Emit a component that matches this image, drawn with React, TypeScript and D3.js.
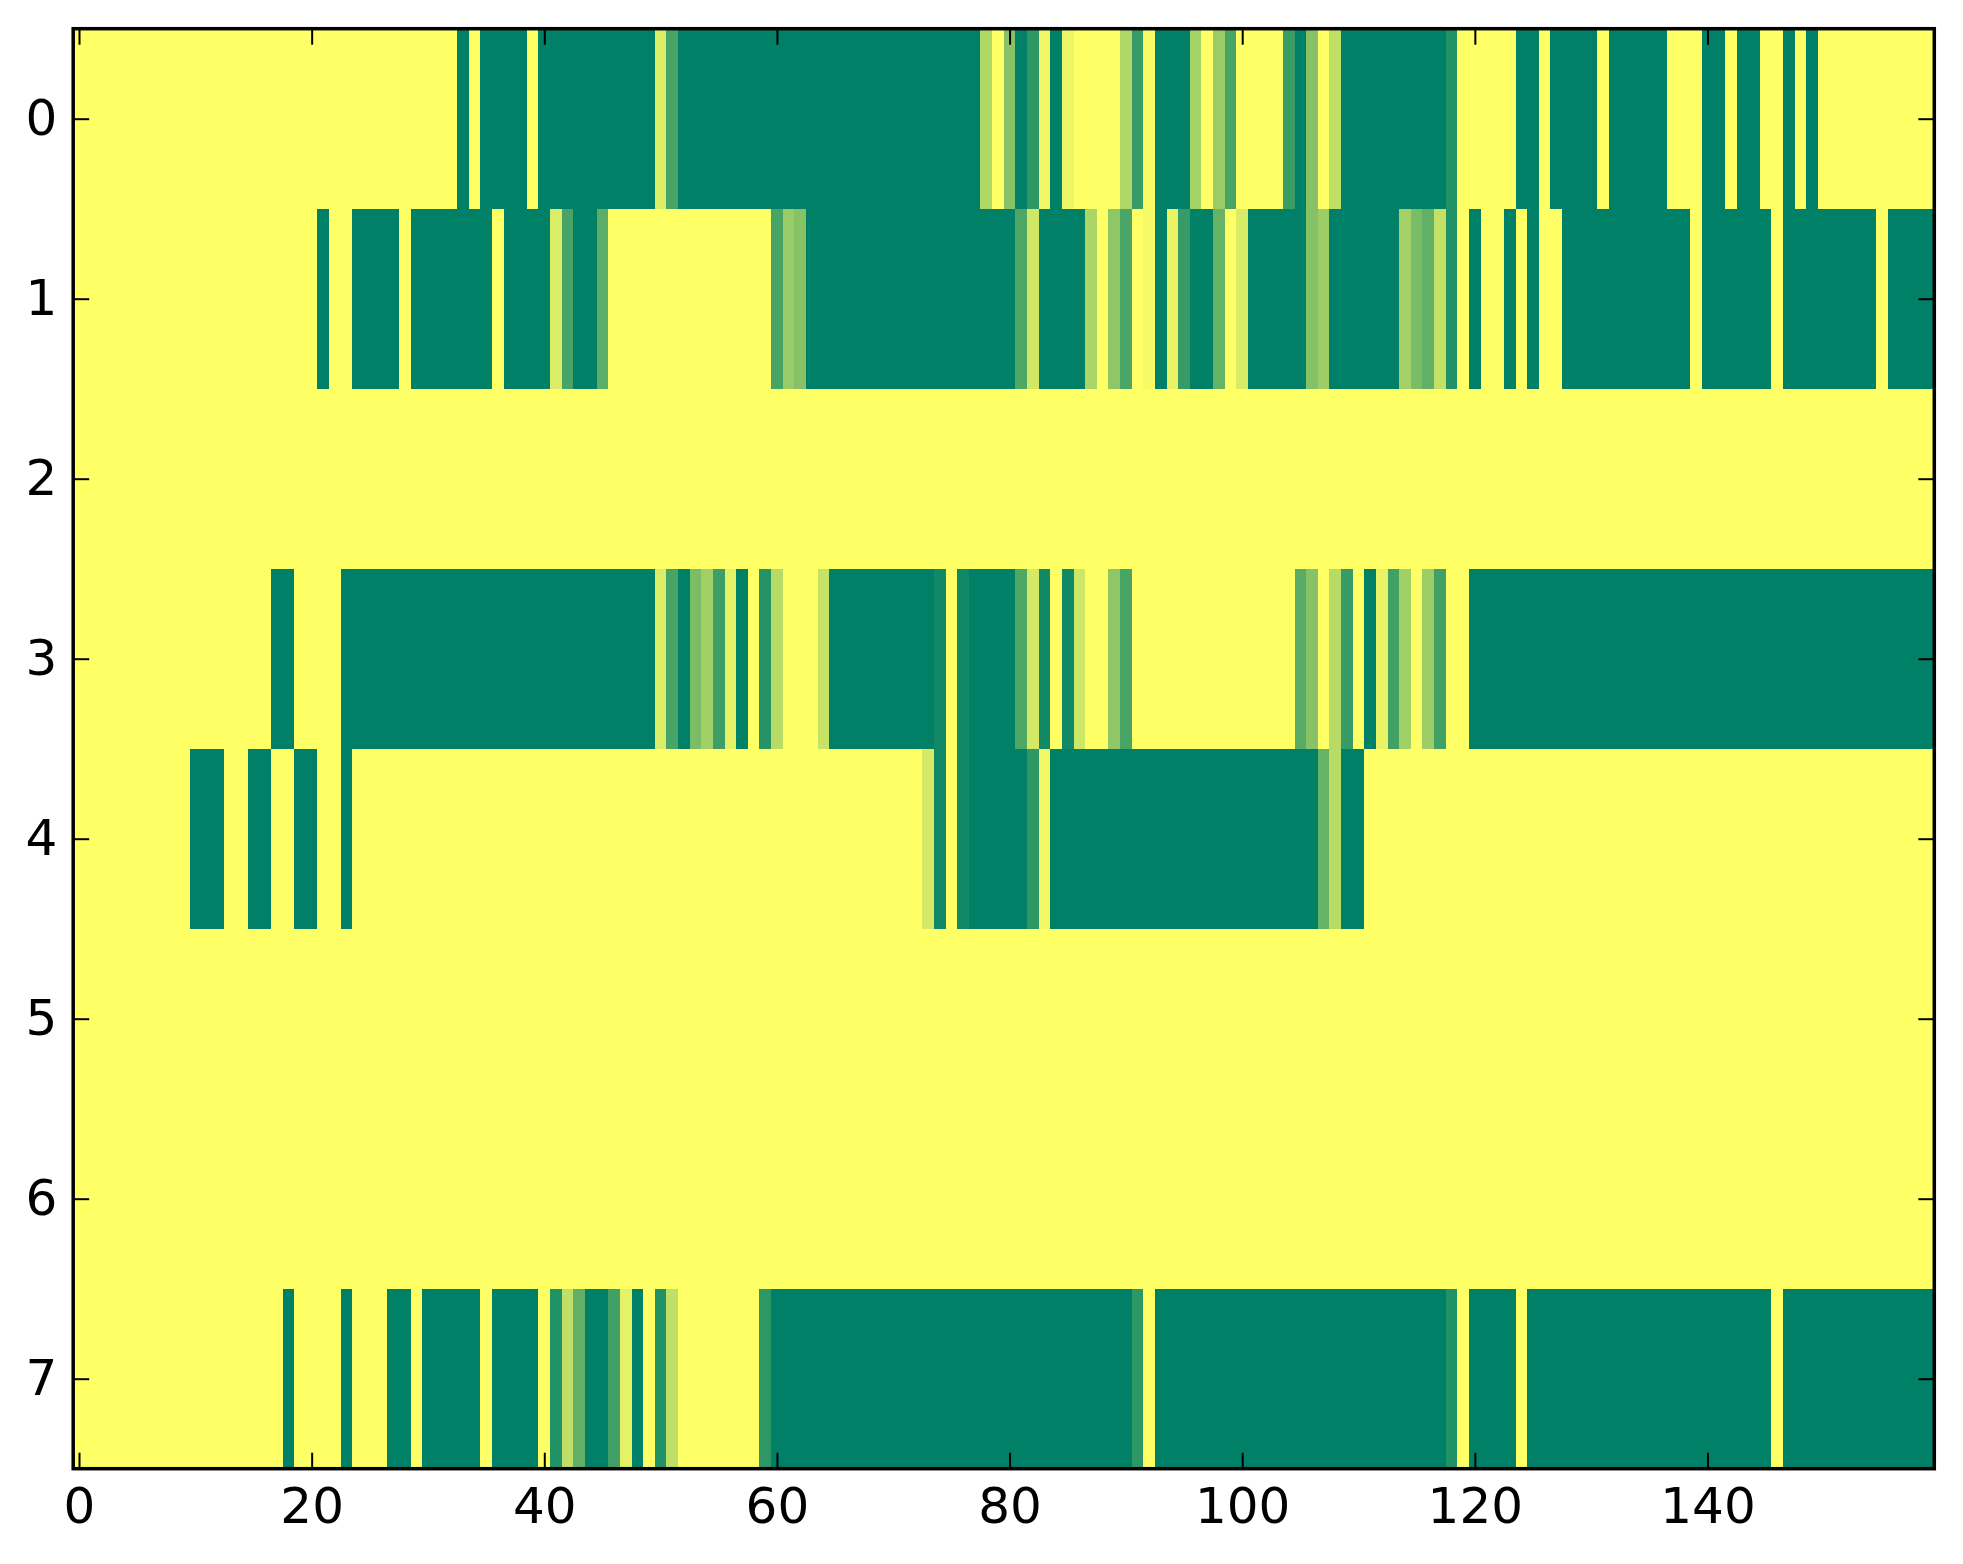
import { useEffect, useRef } from "react";
import * as d3 from "d3";

// one array per row, 160 columns each, values 0..1 (summer_r colormap)
const ROW_0 = [
  0, 0, 0, 0, 0, 0, 0, 0, 0, 0, 0, 0, 0, 0, 0, 0, 0, 0, 0, 0,
  0, 0, 0, 0, 0, 0, 0, 0, 0, 0, 0, 0, 0, 1, 0, 1, 1, 1, 1, 0,
  1, 1, 1, 1, 1, 1, 1, 1, 1, 1, 0.14, 0.72, 1, 1, 1, 1, 1, 1, 1, 1,
  1, 1, 1, 1, 1, 1, 1, 1, 1, 1, 1, 1, 1, 1, 1, 1, 1, 1, 0.31, 0,
  0.47, 1, 0.82, 0.06, 1, 0.07, 0, 0, 0, 0, 0.31, 0.79, 0.03, 1, 1, 1, 0.35, 0, 0.4, 0.72,
  0, 0, 0, 0, 0.77, 1, 0.47, 0, 0.25, 1, 1, 1, 1, 1, 1, 1, 1, 1, 0.87, 0,
  0, 0, 0, 0, 1, 1, 0, 1, 1, 1, 1, 0, 1, 1, 1, 1, 1, 0, 0, 0,
  1, 1, 0, 1, 1, 0, 0, 1, 0, 1, 0, 0, 0, 0, 0, 0, 0, 0, 0, 0,
];
const ROW_1 = [
  0, 0, 0, 0, 0, 0, 0, 0, 0, 0, 0, 0, 0, 0, 0, 0, 0, 0, 0, 0,
  0, 1, 0, 0, 1, 1, 1, 1, 0, 1, 1, 1, 1, 1, 1, 1, 0, 1, 1, 1,
  1, 0.14, 0.72, 1, 1, 0.64, 0, 0, 0, 0, 0, 0, 0, 0, 0, 0, 0, 0, 0, 0,
  0.72, 0.4, 0.47, 1, 1, 1, 1, 1, 1, 1, 1, 1, 1, 1, 1, 1, 1, 1, 1, 1,
  1, 0.69, 0.18, 1, 1, 1, 1, 0.33, 0, 0.44, 0.71, 0, 0.04, 1, 0.09, 0.79, 1, 1, 0.6, 0,
  0.15, 1, 1, 1, 1, 1, 0.48, 0.39, 1, 1, 1, 1, 1, 1, 0.36, 0.52, 0.62, 0.24, 0.87, 0,
  1, 0, 0, 1, 0, 1, 0, 0, 1, 1, 1, 1, 1, 1, 1, 1, 1, 1, 1, 0,
  1, 1, 1, 1, 1, 1, 0, 1, 1, 1, 1, 1, 1, 1, 1, 0, 1, 1, 1, 1,
];
const ROW_2 = [
  0, 0, 0, 0, 0, 0, 0, 0, 0, 0, 0, 0, 0, 0, 0, 0, 0, 0, 0, 0,
  0, 0, 0, 0, 0, 0, 0, 0, 0, 0, 0, 0, 0, 0, 0, 0, 0, 0, 0, 0,
  0, 0, 0, 0, 0, 0, 0, 0, 0, 0, 0, 0, 0, 0, 0, 0, 0, 0, 0, 0,
  0, 0, 0, 0, 0, 0, 0, 0, 0, 0, 0, 0, 0, 0, 0, 0, 0, 0, 0, 0,
  0, 0, 0, 0, 0, 0, 0, 0, 0, 0, 0, 0, 0, 0, 0, 0, 0, 0, 0, 0,
  0, 0, 0, 0, 0, 0, 0, 0, 0, 0, 0, 0, 0, 0, 0, 0, 0, 0, 0, 0,
  0, 0, 0, 0, 0, 0, 0, 0, 0, 0, 0, 0, 0, 0, 0, 0, 0, 0, 0, 0,
  0, 0, 0, 0, 0, 0, 0, 0, 0, 0, 0, 0, 0, 0, 0, 0, 0, 0, 0, 0,
];
const ROW_3 = [
  0, 0, 0, 0, 0, 0, 0, 0, 0, 0, 0, 0, 0, 0, 0, 0, 0, 1, 1, 0,
  0, 0, 0, 1, 1, 1, 1, 1, 1, 1, 1, 1, 1, 1, 1, 1, 1, 1, 1, 1,
  1, 1, 1, 1, 1, 1, 1, 1, 1, 1, 0.14, 0.72, 1, 0.52, 0.37, 0.76, 0.1, 1, 0, 0.85,
  0.28, 0, 0, 0, 0.22, 1, 1, 1, 1, 1, 1, 1, 1, 1, 0.93, 0, 0.93, 1, 1, 1,
  1, 0.69, 0.17, 0.93, 0, 0.93, 0.2, 0, 0, 0.44, 0.72, 0, 0, 0, 0, 0, 0, 0, 0, 0,
  0, 0, 0, 0, 0, 0.65, 0.47, 0, 0.28, 0.79, 0, 1, 0.09, 0.75, 0.37, 0, 0.39, 0.75, 0, 0,
  1, 1, 1, 1, 1, 1, 1, 1, 1, 1, 1, 1, 1, 1, 1, 1, 1, 1, 1, 1,
  1, 1, 1, 1, 1, 1, 1, 1, 1, 1, 1, 1, 1, 1, 1, 1, 1, 1, 1, 1,
];
const ROW_4 = [
  0, 0, 0, 0, 0, 0, 0, 0, 0, 0, 1, 1, 1, 0, 0, 1, 1, 0, 0, 1,
  1, 0, 0, 1, 0, 0, 0, 0, 0, 0, 0, 0, 0, 0, 0, 0, 0, 0, 0, 0,
  0, 0, 0, 0, 0, 0, 0, 0, 0, 0, 0, 0, 0, 0, 0, 0, 0, 0, 0, 0,
  0, 0, 0, 0, 0, 0, 0, 0, 0, 0, 0, 0, 0, 0.17, 0.93, 0, 0.93, 1, 1, 1,
  1, 1, 0.82, 0.05, 1, 1, 1, 1, 1, 1, 1, 1, 1, 1, 1, 1, 1, 1, 1, 1,
  1, 1, 1, 1, 1, 1, 1, 0.6, 0.28, 1, 1, 0, 0, 0, 0, 0, 0, 0, 0, 0,
  0, 0, 0, 0, 0, 0, 0, 0, 0, 0, 0, 0, 0, 0, 0, 0, 0, 0, 0, 0,
  0, 0, 0, 0, 0, 0, 0, 0, 0, 0, 0, 0, 0, 0, 0, 0, 0, 0, 0, 0,
];
const ROW_5 = [...ROW_2];
const ROW_6 = [...ROW_2];
const ROW_7 = [
  0, 0, 0, 0, 0, 0, 0, 0, 0, 0, 0, 0, 0, 0, 0, 0, 0, 0, 1, 0,
  0, 0, 0, 1, 0, 0, 0, 1, 1, 0, 1, 1, 1, 1, 1, 0, 1, 1, 1, 1,
  0, 0.87, 0.25, 0.62, 1, 1, 0.75, 0.1, 1, 0, 0.87, 0.25, 0, 0, 0, 0, 0, 0, 0, 0.82,
  1, 1, 1, 1, 1, 1, 1, 1, 1, 1, 1, 1, 1, 1, 1, 1, 1, 1, 1, 1,
  1, 1, 1, 1, 1, 1, 1, 1, 1, 1, 1, 0.82, 0, 1, 1, 1, 1, 1, 1, 1,
  1, 1, 1, 1, 1, 1, 1, 1, 1, 1, 1, 1, 1, 1, 1, 1, 1, 1, 0.87, 0,
  1, 1, 1, 1, 0, 1, 1, 1, 1, 1, 1, 1, 1, 1, 1, 1, 1, 1, 1, 1,
  1, 1, 1, 1, 1, 1, 0, 1, 1, 1, 1, 1, 1, 1, 1, 1, 1, 1, 1, 1,
];

const ROWS = [ROW_0, ROW_1, ROW_2, ROW_3, ROW_4, ROW_5, ROW_6, ROW_7];
const X_TICKS = [0, 20, 40, 60, 80, 100, 120, 140];
const Y_TICKS = [0, 1, 2, 3, 4, 5, 6, 7];

const W = 1963;
const H = 1564;

export default function App() {
  const ref = useRef<SVGSVGElement | null>(null);

  useEffect(() => {
    if (!ref.current) return;
    const svg = d3.select(ref.current);
    svg.selectAll("*").remove();

    const left = 73.2, right = 1934.3, top = 28.7, bottom = 1468.7;
    const ncol = ROWS[0].length;
    const x = d3.scaleLinear().domain([-0.5, ncol - 0.5]).range([left, right]);
    const y = d3.scaleLinear().domain([-0.5, ROWS.length - 0.5]).range([top, bottom]);
    // summer_r: 0 -> yellow, 1 -> green
    const color = d3.scaleLinear<string>().domain([0, 1]).range(["#ffff66", "#008066"])
      .interpolate(d3.interpolateRgb);

    svg.append("rect").attr("width", W).attr("height", H).attr("fill", "#fff");

    const cells = ROWS.flatMap((row, r) => row.map((v, c) => ({ r, c, v })));
    svg.append("g")
      .attr("shape-rendering", "crispEdges")
      .selectAll("rect")
      .data(cells)
      .join("rect")
      .attr("x", d => x(d.c - 0.5))
      .attr("y", d => y(d.r - 0.5))
      .attr("width", d => x(d.c + 0.5) - x(d.c - 0.5) + 0.6)
      .attr("height", d => y(d.r + 0.5) - y(d.r - 0.5) + 0.6)
      .attr("fill", d => color(d.v));

    const font = "DejaVu Sans";
    const fs = 50;
    const tick = 16;

    const styleAxis = (g: d3.Selection<SVGGElement, unknown, null, undefined>, showText: boolean) => {
      g.select(".domain").remove();
      g.selectAll(".tick line").attr("stroke", "#000").attr("stroke-width", 2);
      g.selectAll(".tick text")
        .attr("fill", "#000")
        .style("font-family", font)
        .style("font-size", `${fs}px`)
        .style("display", showText ? null : "none");
    };

    svg.append("g")
      .attr("transform", `translate(0,${bottom})`)
      .call(d3.axisBottom(x).tickValues(X_TICKS).tickSizeInner(-tick).tickSizeOuter(0).tickPadding(19))
      .call(g => styleAxis(g, true));
    svg.append("g")
      .attr("transform", `translate(0,${top})`)
      .call(d3.axisTop(x).tickValues(X_TICKS).tickSizeInner(-tick).tickSizeOuter(0))
      .call(g => styleAxis(g, false));
    svg.append("g")
      .attr("transform", `translate(${left},0)`)
      .call(d3.axisLeft(y).tickValues(Y_TICKS).tickSizeInner(-tick).tickSizeOuter(0).tickPadding(16))
      .call(g => styleAxis(g, true));
    svg.append("g")
      .attr("transform", `translate(${right},0)`)
      .call(d3.axisRight(y).tickValues(Y_TICKS).tickSizeInner(-tick).tickSizeOuter(0))
      .call(g => styleAxis(g, false));

    svg.append("rect")
      .attr("x", left).attr("y", top)
      .attr("width", right - left).attr("height", bottom - top)
      .attr("fill", "none").attr("stroke", "#000").attr("stroke-width", 3.5);
  }, []);

  return (
    <svg
      ref={ref}
      width={W}
      height={H}
      style={{ position: "absolute", left: 0, top: 0, display: "block" }}
    />
  );
}
